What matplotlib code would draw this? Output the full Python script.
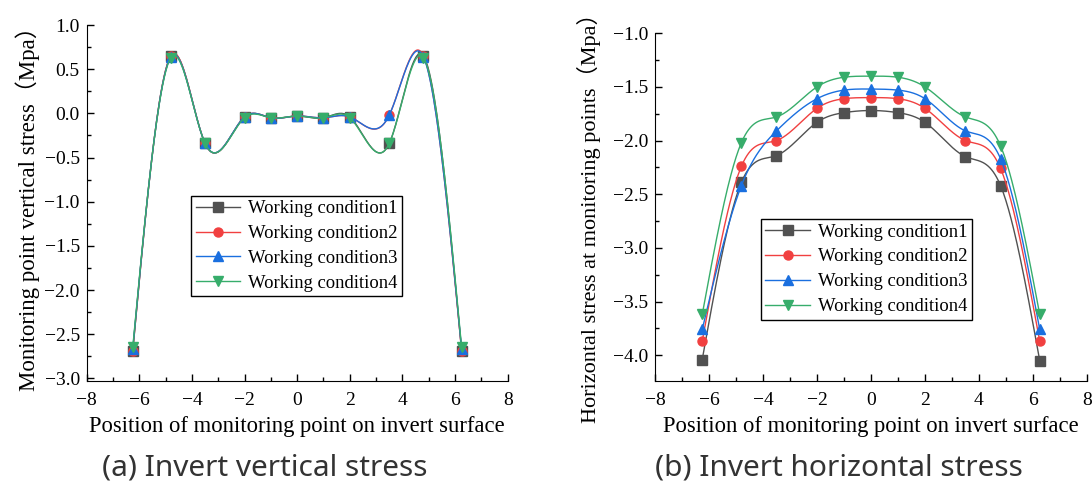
import matplotlib
matplotlib.use('Agg')
import matplotlib.pyplot as plt
import numpy as np

plt.rcParams['font.family'] = ['Liberation Serif', 'Noto Sans CJK SC', 'DejaVu Sans']
plt.rcParams['axes.unicode_minus'] = True

# monitoring point positions on the invert surface
x_pos = [-6.25, -4.8, -3.5, -2, -1, 0, 1, 2, 3.5, 4.8, 6.25]

# (a) vertical stress, Mpa
v_wc1 = [-2.69, 0.65, -0.34, -0.04, -0.05, -0.03, -0.05, -0.04, -0.34, 0.65, -2.69]
v_wc2 = [-2.69, 0.65, -0.34, -0.04, -0.05, -0.03, -0.05, -0.04, -0.02, 0.65, -2.69]
v_wc3 = [-2.67, 0.64, -0.34, -0.04, -0.05, -0.03, -0.05, -0.04, -0.02, 0.64, -2.67]
v_wc4 = [-2.65, 0.63, -0.34, -0.05, -0.05, -0.03, -0.05, -0.05, -0.34, 0.63, -2.65]

# (b) horizontal stress, Mpa
h_wc1 = [-4.04, -2.39, -2.14, -1.83, -1.74, -1.72, -1.74, -1.83, -2.15, -2.42, -4.05]
h_wc2 = [-3.87, -2.24, -2.00, -1.70, -1.61, -1.60, -1.61, -1.70, -2.00, -2.26, -3.87]
h_wc3 = [-3.76, -2.42, -1.91, -1.61, -1.53, -1.52, -1.53, -1.61, -1.91, -2.17, -3.76]
h_wc4 = [-3.62, -2.02, -1.78, -1.50, -1.41, -1.40, -1.41, -1.50, -1.78, -2.05, -3.62]

labels = ['Working condition1', 'Working condition2', 'Working condition3', 'Working condition4']
colors = ['#515151', '#F14040', '#1A6FDF', '#37AD6B']
markers = ['s', 'o', '^', 'v']


def spline(x, y, n=400):
    # natural cubic spline, only used to draw the smooth connecting line
    x = np.asarray(x, float)
    y = np.asarray(y, float)
    k = len(x)
    h = np.diff(x)
    A = np.zeros((k, k))
    r = np.zeros(k)
    A[0, 0] = A[-1, -1] = 1
    for i in range(1, k - 1):
        A[i, i - 1] = h[i - 1]
        A[i, i] = 2 * (h[i - 1] + h[i])
        A[i, i + 1] = h[i]
        r[i] = 6 * ((y[i + 1] - y[i]) / h[i] - (y[i] - y[i - 1]) / h[i - 1])
    M = np.linalg.solve(A, r)
    xs = np.linspace(x[0], x[-1], n)
    idx = np.clip(np.searchsorted(x, xs) - 1, 0, k - 2)
    x0, x1 = x[idx], x[idx + 1]
    hh = x1 - x0
    a = (x1 - xs) / hh
    b = (xs - x0) / hh
    ys = a * y[idx] + b * y[idx + 1] + ((a ** 3 - a) * M[idx] + (b ** 3 - b) * M[idx + 1]) * hh ** 2 / 6
    return xs, ys


fig = plt.figure(figsize=(10.92, 4.83), dpi=100)
ax1 = fig.add_axes([0.0794, 0.2112, 0.3855, 0.7370])
ax2 = fig.add_axes([0.5998, 0.2112, 0.3956, 0.7200])


def draw(ax, series, ylim, yticks, ylabel, ylabel_size, legend_at):
    for ys, lab, c, m in zip(series, labels, colors, markers):
        sx, sy = spline(x_pos, ys)
        ax.plot(sx, sy, color=c, lw=1)
        ax.plot(x_pos, ys, ls='none', marker=m, ms=6.5, color=c)
        ax.plot([], [], color=c, lw=1, marker=m, ms=6.5, label=lab)
    ax.set_xlim(-8, 8)
    ax.set_ylim(*ylim)
    ax.set_xticks(range(-8, 9, 2))
    ax.set_xticks(range(-7, 8, 2), minor=True)
    ax.set_yticks(yticks)
    ax.set_yticks(np.arange(yticks[0] + 0.25, yticks[-1], 0.5), minor=True)
    ax.yaxis.set_major_formatter(matplotlib.ticker.FuncFormatter(lambda v, p: f'{v:.1f}'.replace('-', '\u2212')))
    ax.spines['top'].set_visible(False)
    ax.spines['right'].set_visible(False)
    ax.tick_params(which='both', direction='in', labelsize=14, width=1)
    ax.tick_params(which='major', length=5)
    ax.tick_params(axis='x', which='major', pad=8)
    ax.tick_params(axis='y', which='major', pad=5)
    ax.tick_params(which='minor', length=3)
    ax.set_xlabel('Position of monitoring point on invert surface', fontsize=16.3, labelpad=5)
    ax.set_ylabel(ylabel, fontsize=ylabel_size, labelpad=3)
    leg = ax.legend(loc='upper left', bbox_to_anchor=legend_at, fontsize=13.4,
                    frameon=True, fancybox=False, edgecolor='black', framealpha=1,
                    borderpad=0.25, labelspacing=0.42, handlelength=2.4,
                    handletextpad=0.4, borderaxespad=0)
    leg.get_frame().set_linewidth(1)


draw(ax1, [v_wc1, v_wc2, v_wc3, v_wc4], (-3.03, 1.0), np.arange(-3.0, 1.01, 0.5),
     'Monitoring point vertical stress\uff08Mpa\uff09', 16.5, (0.248, 0.521))
draw(ax2, [h_wc1, h_wc2, h_wc3, h_wc4], (-4.24, -1.0), np.arange(-4.0, -0.99, 0.5),
     'Horizontal stress at monitoring points\uff08Mpa\uff09', 16, (0.245, 0.466))
ax2.yaxis.set_label_coords(-0.125, 0.485)

fig.text(0.242, 0.032, '(a) Invert vertical stress', family='Noto Sans', fontsize=21.5,
         color='#333333', ha='center', va='center')
fig.text(0.768, 0.032, '(b) Invert horizontal stress', family='Noto Sans', fontsize=21.5,
         color='#333333', ha='center', va='center')

fig.savefig('out.png', dpi=100)
